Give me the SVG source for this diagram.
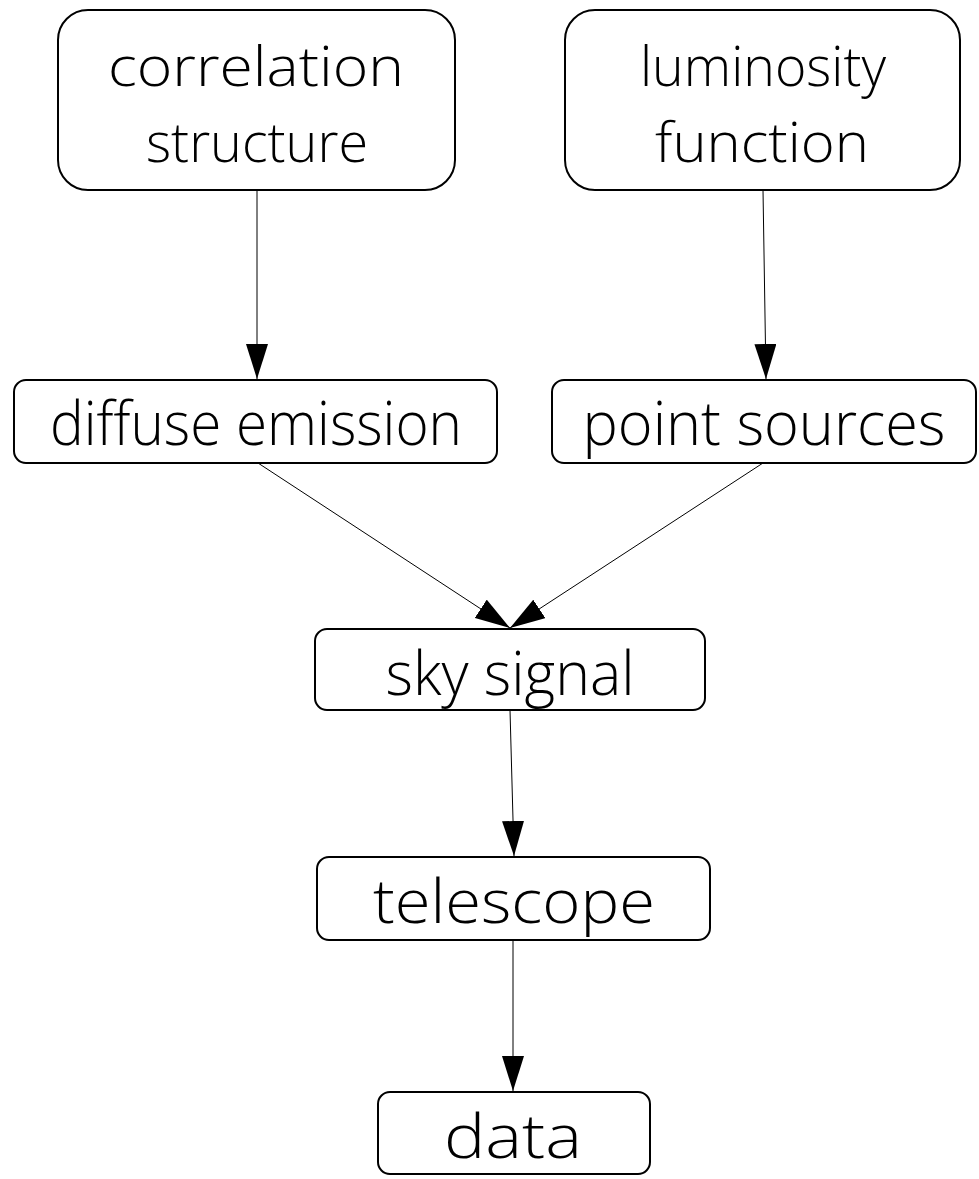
<svg xmlns="http://www.w3.org/2000/svg" width="979" height="1179" viewBox="0 0 979 1179">
<style>
.box{fill:#fff;stroke:#000;stroke-width:2}
.lbl{font-family:"Open Sans","Lato","Liberation Sans",sans-serif;font-weight:300;font-size:61px;fill:#000;text-anchor:middle}
.two{font-size:55px}
.edge{stroke:#000;stroke-width:1;fill:none}
</style>
<defs>
<marker id="ah" viewBox="0 0 35 22" refX="35" refY="11" markerWidth="35" markerHeight="22" markerUnits="userSpaceOnUse" orient="auto">
<path d="M0,0 L35,11 L0,22 Z" fill="#000"/>
</marker>
</defs>
<rect width="979" height="1179" fill="#fff"/>
<g id="edges">
<line class="edge" x1="257" y1="190" x2="257" y2="379" marker-end="url(#ah)"/>
<line class="edge" x1="763" y1="190" x2="766" y2="379" marker-end="url(#ah)"/>
<line class="edge" x1="258" y1="463" x2="510" y2="628" marker-end="url(#ah)"/>
<line class="edge" x1="763" y1="463" x2="510" y2="628" marker-end="url(#ah)"/>
<line class="edge" x1="510" y1="710" x2="514" y2="856" marker-end="url(#ah)"/>
<line class="edge" x1="513" y1="940" x2="513" y2="1091" marker-end="url(#ah)"/>
</g>
<g id="correlation-structure">
<rect class="box" x="58" y="10" width="397" height="180" rx="30"/>
<text class="lbl two" x="256" y="86" textLength="296" lengthAdjust="spacingAndGlyphs">correlation</text>
<text class="lbl two" x="257" y="162" textLength="222" lengthAdjust="spacingAndGlyphs">structure</text>
</g>
<g id="luminosity-function">
<rect class="box" x="565" y="10" width="395" height="180" rx="30"/>
<text class="lbl two" x="763" y="86" textLength="246" lengthAdjust="spacingAndGlyphs">luminosity</text>
<text class="lbl two" x="762" y="162" textLength="214" lengthAdjust="spacingAndGlyphs">function</text>
</g>
<g id="diffuse-emission">
<rect class="box" x="14" y="380" width="483" height="83" rx="12"/>
<text class="lbl" x="256" y="445" textLength="412" lengthAdjust="spacingAndGlyphs">diffuse emission</text>
</g>
<g id="point-sources">
<rect class="box" x="552" y="380" width="424" height="83" rx="12"/>
<text class="lbl" x="764" y="445" textLength="363" lengthAdjust="spacingAndGlyphs">point sources</text>
</g>
<g id="sky-signal">
<rect class="box" x="315" y="629" width="390" height="81" rx="12"/>
<text class="lbl" x="510" y="695" textLength="249" lengthAdjust="spacingAndGlyphs">sky signal</text>
</g>
<g id="telescope">
<rect class="box" x="317" y="857" width="393" height="83" rx="12"/>
<text class="lbl" x="514" y="923" textLength="282" lengthAdjust="spacingAndGlyphs">telescope</text>
</g>
<g id="data">
<rect class="box" x="378" y="1092" width="272" height="82" rx="12"/>
<text class="lbl" x="513" y="1158" textLength="138" lengthAdjust="spacingAndGlyphs">data</text>
</g>
</svg>
